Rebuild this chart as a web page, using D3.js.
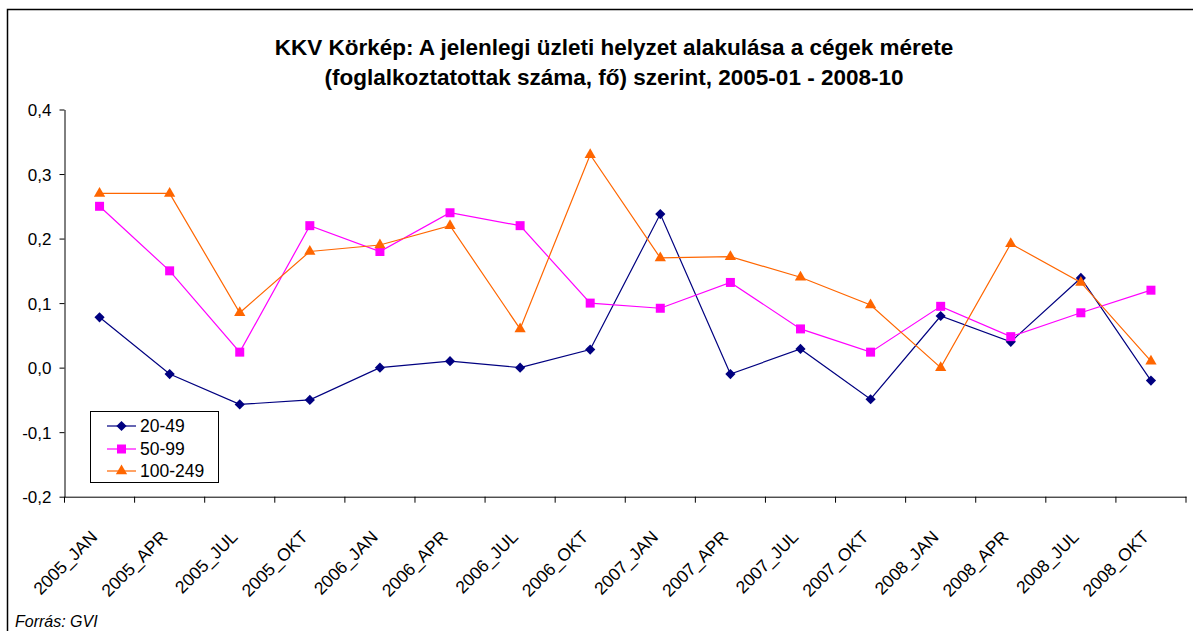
<!DOCTYPE html>
<html><head><meta charset="utf-8">
<script src="https://cdn.jsdelivr.net/npm/d3@7"></script>
<style>
body{margin:0;background:#fff;}
svg{display:block;font-family:"Liberation Sans",Arial,sans-serif;}
</style></head><body>
<svg id="c" width="1193" height="631"></svg>
<script>
const categories = ["2005_JAN","2005_APR","2005_JUL","2005_OKT","2006_JAN","2006_APR","2006_JUL","2006_OKT","2007_JAN","2007_APR","2007_JUL","2007_OKT","2008_JAN","2008_APR","2008_JUL","2008_OKT"];
const s20_49 = [0.078,-0.01,-0.057,-0.05,0.0,0.01,0.0,0.028,0.238,-0.01,0.029,-0.049,0.08,0.04,0.139,-0.02];
const s50_99 = [0.25,0.15,0.024,0.22,0.18,0.24,0.22,0.10,0.092,0.132,0.06,0.024,0.095,0.048,0.085,0.12];
const s100_249 = [0.27,0.27,0.085,0.18,0.19,0.22,0.06,0.33,0.17,0.172,0.14,0.097,0.0,0.192,0.132,0.01];
const yTicks = [-0.2,-0.1,0.0,0.1,0.2,0.3,0.4];
const seriesNames = ["20-49","50-99","100-249"];

const series = [
  {name:seriesNames[0], values:s20_49, color:"#000080", marker:"diamond"},
  {name:seriesNames[1], values:s50_99, color:"#FF00FF", marker:"square"},
  {name:seriesNames[2], values:s100_249, color:"#FF6600", marker:"triangle"}
];

const svg = d3.select("#c");
const L=64.5, R=1186, T=109.5, B=496.7;

svg.append("rect").attr("x",7.5).attr("y",9.5).attr("width",1200).attr("height",640)
  .attr("fill","none").attr("stroke","#000").attr("stroke-width",1.5);

const title = svg.append("text").attr("text-anchor","middle").attr("font-weight","bold").attr("font-size",22.5).attr("fill","#000");
title.append("tspan").attr("x",614).attr("y",55).text("KKV Körkép: A jelenlegi üzleti helyzet alakulása a cégek mérete");
title.append("tspan").attr("x",614).attr("y",85).text("(foglalkoztatottak száma, fő) szerint, 2005-01 - 2008-10");

const x = d3.scaleBand().domain(categories).range([L,R]).padding(0);
const y = d3.scaleLinear().domain([-0.2,0.4]).range([B,T]);

const yAxis = d3.axisLeft(y).tickValues(yTicks).tickSize(5).tickSizeOuter(0)
  .tickFormat(d=>d3.format(".1f")(d).replace(".",",").replace("−","-"));
const gy = svg.append("g").attr("transform",`translate(${L},0)`).call(yAxis);
gy.selectAll("text").attr("font-size",17).attr("fill","#000").attr("x",-13).attr("dy","0.36em");
gy.select(".domain").attr("stroke","#000");

const xAxis = d3.axisBottom(x).tickSize(0).tickFormat("");
const gx = svg.append("g").attr("transform",`translate(0,${B})`).call(xAxis);
gx.select(".domain").attr("stroke","#000");
const bounds = categories.map(c=>x(c)).concat([x(categories[categories.length-1])+x.bandwidth()]);
gx.selectAll("line.bt").data(bounds).enter().append("line").attr("class","bt")
  .attr("x1",d=>d).attr("x2",d=>d).attr("y1",0).attr("y2",6).attr("stroke","#000");
svg.append("g").selectAll("text").data(categories).enter().append("text")
  .attr("transform",d=>`translate(${x(d)+x.bandwidth()/2-1},538) rotate(-45)`)
  .attr("text-anchor","end").attr("font-size",17.5).attr("fill","#000").text(d=>d);

const line = d3.line().x((d,i)=>x(categories[i])+x.bandwidth()/2).y(d=>y(d));
const sym = {diamond:d3.symbolSquare, square:d3.symbolSquare, triangle:d3.symbolTriangle};
const symSize = {diamond:52, square:81, triangle:55};
const symRot = {diamond:45, square:0, triangle:0};
series.forEach(s=>{
  svg.append("path").datum(s.values).attr("d",line).attr("fill","none").attr("stroke",s.color).attr("stroke-width",1.2);
});
series.forEach(s=>{
  svg.append("g").selectAll("path").data(s.values).enter().append("path")
    .attr("d",d3.symbol().type(sym[s.marker]).size(symSize[s.marker]))
    .attr("transform",(d,i)=>`translate(${x(categories[i])+x.bandwidth()/2},${y(d)}) rotate(${symRot[s.marker]})`)
    .attr("fill",s.color);
});

const lg = svg.append("g");
lg.append("rect").attr("x",90.5).attr("y",411.5).attr("width",128).attr("height",71)
  .attr("fill","#fff").attr("stroke","#000").attr("stroke-width",1);
const ly = [426,449,471];
series.forEach((s,i)=>{
  lg.append("line").attr("x1",107).attr("x2",136).attr("y1",ly[i]).attr("y2",ly[i]).attr("stroke",s.color).attr("stroke-width",1.2);
  lg.append("path").attr("d",d3.symbol().type(sym[s.marker]).size(symSize[s.marker])())
    .attr("transform",`translate(121.5,${ly[i]}) rotate(${symRot[s.marker]})`).attr("fill",s.color);
  lg.append("text").attr("x",140).attr("y",ly[i]).attr("dy","0.36em").attr("font-size",17.5).attr("fill","#000").text(s.name);
});

svg.append("text").attr("x",15).attr("y",627).attr("font-size",16).attr("font-style","italic").attr("fill","#000").text("Forrás: GVI");
</script></body></html>
